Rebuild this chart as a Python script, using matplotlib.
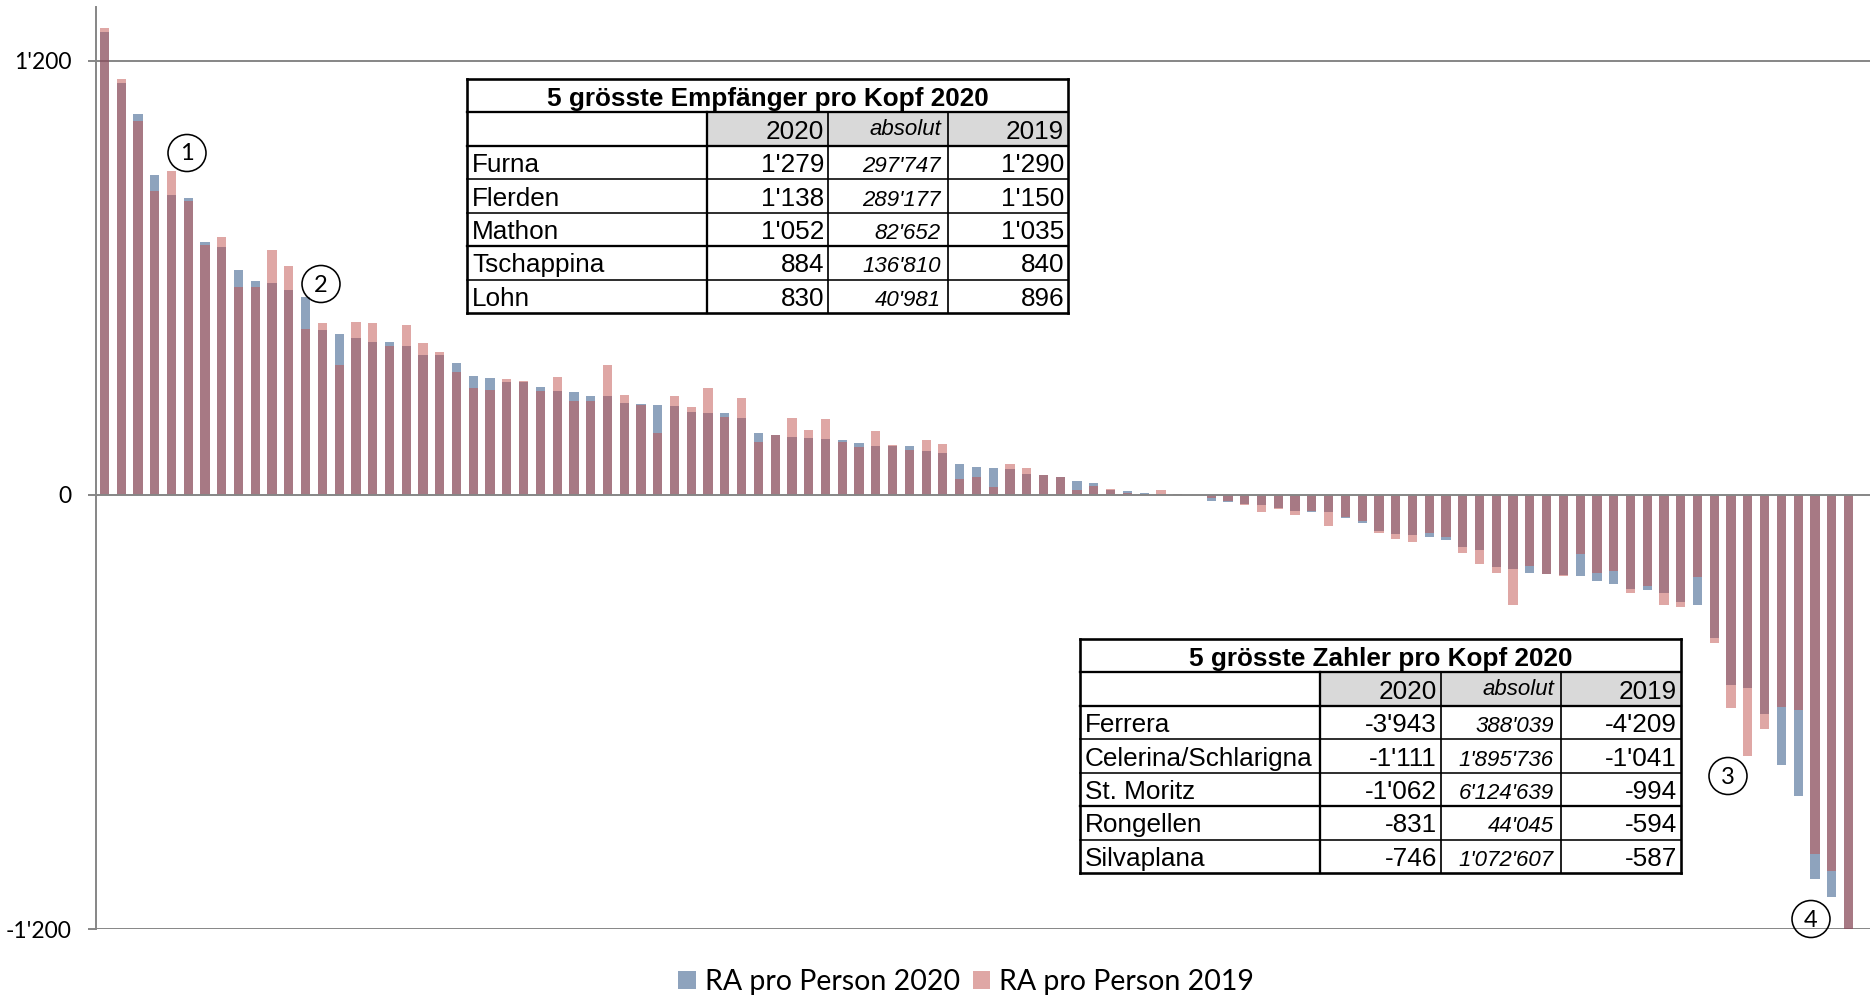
import matplotlib
matplotlib.use("Agg")
import matplotlib.pyplot as plt
from matplotlib.patches import Patch, Rectangle, Ellipse
from matplotlib.ticker import FuncFormatter

# ---------------- data ----------------
values_2020 = [1279, 1138, 1052, 884, 830, 821, 700, 686, 622, 592,
               587, 568, 546, 456, 444, 434, 423, 422, 412, 388,
               386, 365, 329, 323, 313, 312, 299, 288, 285, 275,
               274, 255, 252, 249, 246, 229, 228, 228, 212, 171,
               165, 159, 158, 155, 152, 144, 136, 136, 135, 122,
               117, 86, 78, 75, 73, 57, 56, 50, 38, 34,
               15, 10, 6, 4, 2, 0, -16, -20, -26, -28,
               -37, -44, -46, -46, -63, -78, -100, -109, -110, -115,
               -125, -145, -152, -199, -204, -215, -218, -221, -225, -239,
               -247, -259, -264, -270, -295, -303, -395, -526, -535, -605,
               -746, -831, -1062, -1111, -3943]
values_2019 = [1290, 1150, 1035, 840, 896, 813, 691, 712, 574, 576,
               678, 633, 458, 476, 359, 479, 476, 411, 470, 419,
               395, 341, 297, 290, 321, 315, 288, 325, 259, 260,
               359, 276, 249, 171, 273, 243, 296, 215, 268, 147,
               166, 212, 180, 210, 147, 133, 177, 138, 123, 153,
               141, 44, 50, 23, 85, 75, 56, 50, 14, 25,
               16, 5, 3, 14, 3, 0, -9, -17, -27, -48,
               -40, -55, -43, -86, -60, -72, -106, -121, -130, -105,
               -117, -161, -192, -217, -305, -195, -218, -223, -162, -215,
               -209, -271, -251, -304, -310, -226, -410, -589, -721, -648,
               -587, -594, -994, -1041, -4209]
series_labels = ["RA pro Person 2020", "RA pro Person 2019"]
y_ticks = [-1200, 0, 1200]

table_header = ["", "2020", "absolut", "2019"]

top_title = "5 grösste Empfänger pro Kopf 2020"
top_names = ["Furna", "Flerden", "Mathon", "Tschappina", "Lohn"]
top_2020 = [1279, 1138, 1052, 884, 830]
top_abs = [297747, 289177, 82652, 136810, 40981]
top_2019 = [1290, 1150, 1035, 840, 896]

bottom_title = "5 grösste Zahler pro Kopf 2020"
bottom_names = ["Ferrera", "Celerina/Schlarigna", "St. Moritz", "Rongellen", "Silvaplana"]
bottom_2020 = [-3943, -1111, -1062, -831, -746]
bottom_abs = [388039, 1895736, 6124639, 44045, 1072607]
bottom_2019 = [-4209, -1041, -994, -594, -587]

marker_labels = ["1", "2", "3", "4"]


def fmt(v):
    s = f"{abs(int(round(v))):,}".replace(",", "'")
    return ("-" if v < 0 else "") + s


# ---------------- figure ----------------
W, H = 1870, 997
fig = plt.figure(figsize=(W / 100, H / 100), dpi=100)
fig.patch.set_facecolor("white")

ax_left, ax_right, ax_top, ax_bottom = 96, W, 6.7, 929
ax = fig.add_axes([ax_left / W, 1 - ax_bottom / H,
                   (ax_right - ax_left) / W, (ax_bottom - ax_top) / H])

C2020 = "#1F497D"
C2019 = "#C0504D"
GRID = "#868686"

x = list(range(len(values_2020)))
ax.bar(x, values_2020, width=0.55, color=C2020, alpha=0.5, zorder=2, linewidth=0)
ax.bar(x, values_2019, width=0.55, color=C2019, alpha=0.5, zorder=3, linewidth=0)

ax.set_xlim(-0.5, -0.5 + (ax_right - ax_left) / 16.77)
ax.set_ylim(-1200, 1350)

for t in y_ticks:
    ax.axhline(t, color=GRID, lw=1.4, zorder=1 if t != 0 else 4)

for s in ["top", "right", "bottom"]:
    ax.spines[s].set_visible(False)
ax.spines["left"].set_color(GRID)
ax.spines["left"].set_linewidth(1.4)
ax.set_xticks([])
ax.set_yticks(y_ticks)
ax.yaxis.set_major_formatter(FuncFormatter(lambda v, p: fmt(v)))
ax.tick_params(axis="y", length=5.8, width=1.4, color=GRID, pad=12,
               labelsize=16.5, labelcolor="black")
for lab in ax.get_yticklabels():
    lab.set_family("Lato")

# legend
handles = [Patch(facecolor=C2020, alpha=0.5, edgecolor="none"),
           Patch(facecolor=C2019, alpha=0.5, edgecolor="none")]
fig.legend(handles=handles, labels=series_labels, loc="center",
           bbox_to_anchor=(966 / W, 1 - 982 / H), ncol=2, frameon=False,
           prop=dict(family="Lato", size=20.5), handlelength=0.62,
           handleheight=0.62, handletextpad=0.3, columnspacing=0.45)

# ---------------- overlay (tables + markers) ----------------
ov = fig.add_axes([0, 0, 1, 1])
ov.set_xlim(0, W)
ov.set_ylim(H, 0)
ov.axis("off")
ov.patch.set_alpha(0)
ov.set_zorder(3)

PT = 0.72  # px -> pt
BODY = 18.8
ITAL = 16.0


def hline(x0, x1, y, lw):
    ov.plot([x0, x1], [y, y], color="black", lw=lw * PT,
            solid_capstyle="projecting", zorder=3)


def vline(xv, y0, y1, lw):
    ov.plot([xv, xv], [y0, y1], color="black", lw=lw * PT,
            solid_capstyle="projecting", zorder=3)


def draw_table(left, top, title, names, v20, vabs, v19):
    colw = [240, 121, 120, 120]
    rh = 33.45
    xs = [left]
    for w in colw:
        xs.append(xs[-1] + w)
    nrows = 2 + len(names)
    bottom = top + nrows * rh
    ov.add_patch(Rectangle((left, top), xs[-1] - left, nrows * rh,
                           facecolor="white", edgecolor="none", zorder=1))
    ov.add_patch(Rectangle((xs[1], top + rh), xs[4] - xs[1], rh,
                           facecolor="#D9D9D9", edgecolor="none", zorder=1))
    for i in range(nrows + 1):
        y = top + i * rh
        if i in (0, nrows):
            lw = 2.6
        elif i in (1, 2, 5):
            lw = 2.3
        else:
            lw = 1.6
        hline(left, xs[4], y, lw)
    vline(left, top, bottom, 2.6)
    vline(xs[4], top, bottom, 2.6)
    vline(xs[1], top + rh, bottom, 2.3)
    vline(xs[2], top + rh, bottom, 1.7)
    vline(xs[3], top + rh, bottom, 1.7)

    fam = "Liberation Sans"
    ov.text((left + xs[4]) / 2, top + rh - 6.3, title, ha="center",
            va="baseline", fontsize=18.8, fontweight="bold", family=fam, zorder=4)
    hy = top + 2 * rh
    ov.text(xs[2] - 4, hy - 6.7, table_header[1], ha="right", va="baseline",
            fontsize=BODY, family=fam, zorder=4)
    ov.text(xs[3] - 7, hy - 11, table_header[2], ha="right", va="baseline",
            fontsize=ITAL, family=fam, style="italic", zorder=4)
    ov.text(xs[4] - 4, hy - 6.7, table_header[3], ha="right", va="baseline",
            fontsize=BODY, family=fam, zorder=4)
    for r, name in enumerate(names):
        yb = top + (3 + r) * rh - 7.3
        ov.text(left + 5, yb, name, ha="left", va="baseline",
                fontsize=BODY, family=fam, zorder=4)
        ov.text(xs[2] - 4, yb, fmt(v20[r]), ha="right", va="baseline",
                fontsize=BODY, family=fam, zorder=4)
        ov.text(xs[3] - 7, yb, fmt(vabs[r]), ha="right", va="baseline",
                fontsize=ITAL, family=fam, style="italic", zorder=4)
        ov.text(xs[4] - 4, yb, fmt(v19[r]), ha="right", va="baseline",
                fontsize=BODY, family=fam, zorder=4)


draw_table(467, 79, top_title, top_names, top_2020, top_abs, top_2019)
draw_table(1080, 639, bottom_title, bottom_names, bottom_2020, bottom_abs, bottom_2019)

marker_pos = [(187, 153), (321, 284), (1728, 776), (1811, 919)]
for lab, (mx, my) in zip(marker_labels, marker_pos):
    ov.add_patch(Ellipse((mx, my), 38, 37, facecolor="none",
                         edgecolor="black", lw=1.6 * PT, zorder=4))
    ov.text(mx, my + 1, lab, ha="center", va="center", fontsize=17,
            family="Lato", zorder=5)

fig.savefig("out.png", dpi=100, facecolor="white")
